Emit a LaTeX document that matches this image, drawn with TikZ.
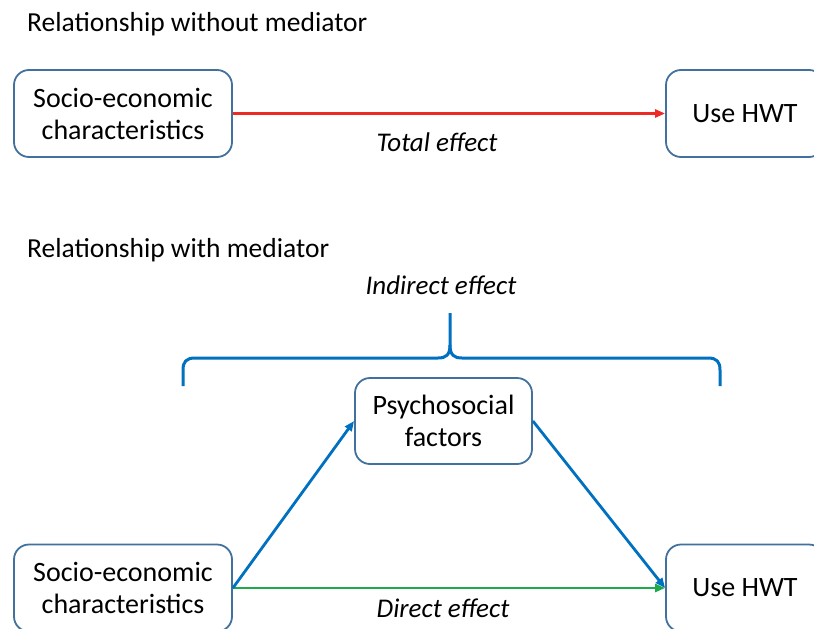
\documentclass[tikz,border=0pt]{standalone}
\usepackage{fontspec}
\setmainfont{Carlito}
\usetikzlibrary{arrows.meta}
\definecolor{boxline}{HTML}{41719C}
\definecolor{ablue}{HTML}{0070C0}
\definecolor{ared}{HTML}{EE2A24}
\definecolor{agreen}{HTML}{1DAA4A}
\tikzset{
  box/.style={draw=boxline, line width=1.8pt, rounded corners=15pt, fill=white,
    align=center, inner sep=0pt, font=\fontsize{28}{32}\selectfont},
  title/.style={anchor=base west, inner sep=0pt, font=\fontsize{27.5}{30}\selectfont},
  lab/.style={inner sep=0pt, font=\fontsize{27}{30}\selectfont\itshape},
  arr/.style={line width=2.8pt, -{Triangle[length=10pt,width=8pt]}},
}
\begin{document}
\begin{tikzpicture}[x=1pt,y=-1pt]
\clip (0,0) rectangle (814,629);
\fill[white] (0,0) rectangle (814,629);
\node[title] (t1) at (27,31) {Relationship without mediator};
\node[title] (t2) at (27,257) {Relationship with mediator};
\node[box, minimum width=218pt, minimum height=87pt] (s1) at (123,113.5) {Socio-economic\\characteristics};
\node[box, minimum width=158pt, minimum height=87pt] (u1) at (745,113.5) {Use HWT};
\node[box, minimum width=177pt, minimum height=86pt] (p) at (443.5,421) {Psychosocial\\factors};
\node[box, minimum width=218pt, minimum height=87pt] (s2) at (123,588) {Socio-economic\\characteristics};
\node[box, minimum width=158pt, minimum height=87pt] (u2) at (745,588) {Use HWT};
\draw[arr, ared] (s1.east) -- (u1.west);
\node[lab] (te) at (437,142) {Total effect};
\draw[arr, agreen] (s2.east) -- (u2.west);
\node[lab] (de) at (443,608) {Direct effect};
\draw[arr, ablue] (s2.east) -- (p.west);
\draw[arr, ablue] (p.east) -- (u2.west);
\node[lab] (ie) at (441,285) {Indirect effect};
\coordinate (bl) at (183,386);
\coordinate (bc) at (450,313);
\coordinate (br) at (720,386);
\draw[ablue, line width=3pt, line join=round]
  (bl) -- (183,370) .. controls (183,362) and (186,358) .. (195,358)
  -- (438,358) .. controls (446,358) and (450,355) .. (450,345) -- (bc);
\draw[ablue, line width=3pt, line join=round]
  (br) -- (720,370) .. controls (720,362) and (717,358) .. (708,358)
  -- (462,358) .. controls (454,358) and (450,355) .. (450,345);
\end{tikzpicture}
\end{document}
